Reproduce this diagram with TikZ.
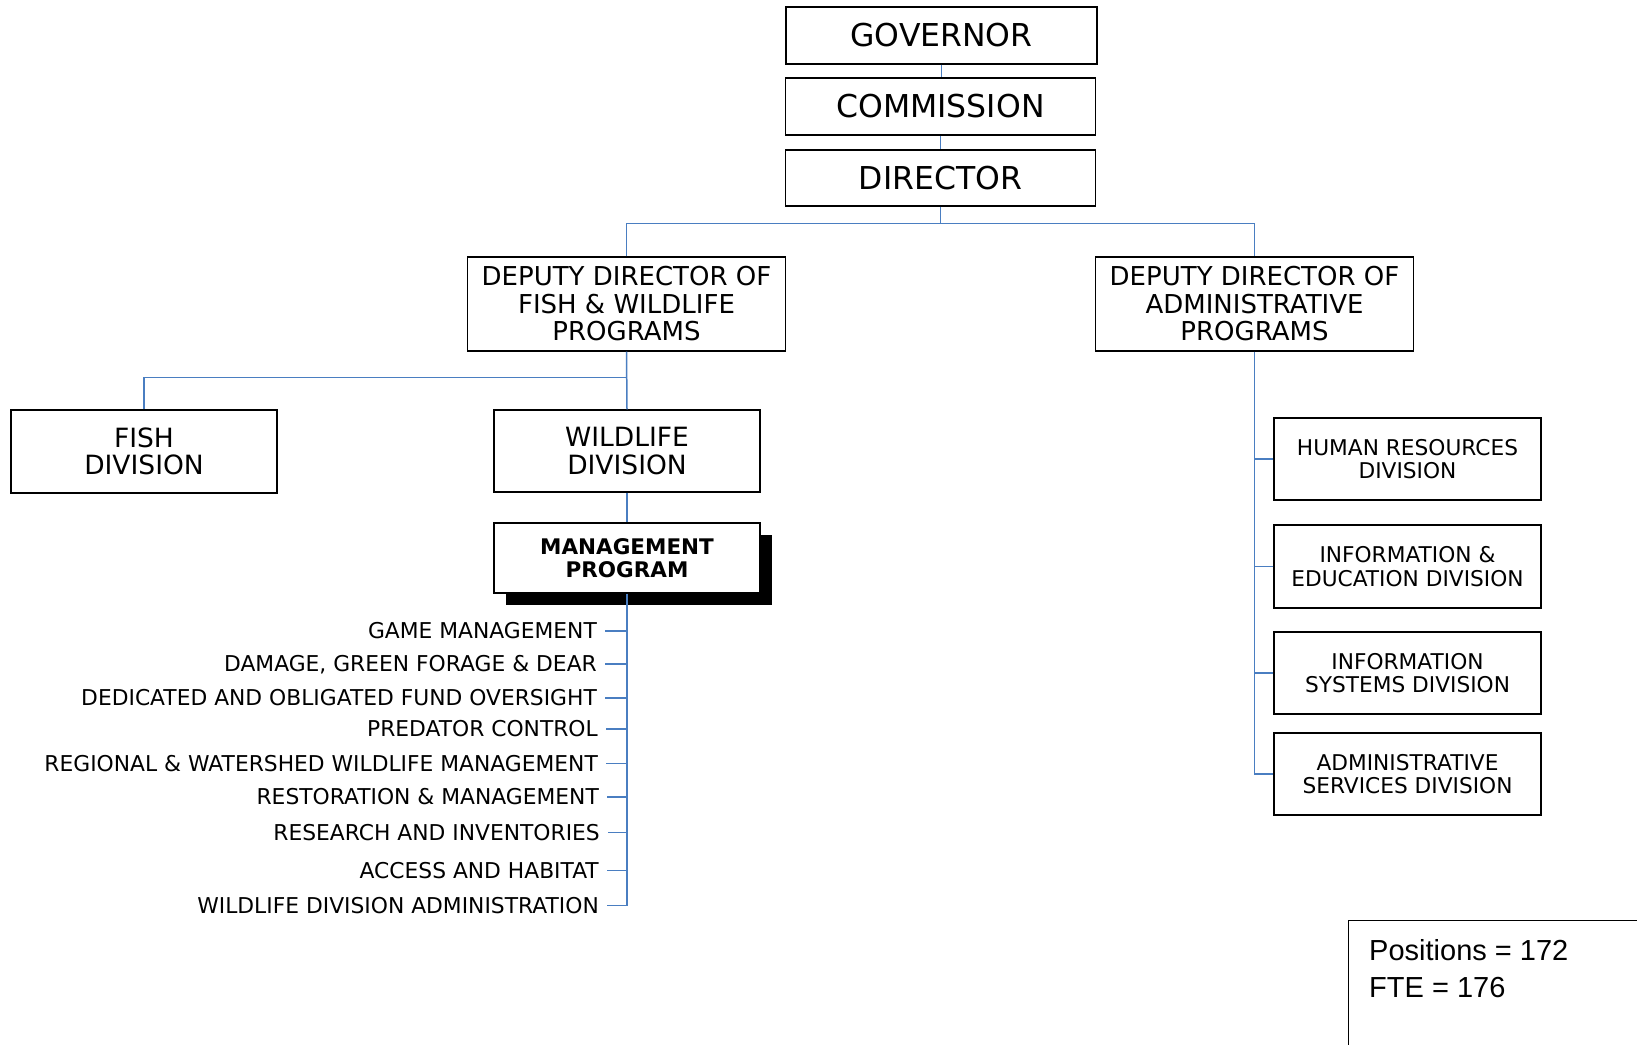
\documentclass[tikz,border=0pt]{standalone}
\usepackage{fontspec}
\setmainfont{DejaVu Sans}
\newfontfamily\posfont{Liberation Sans}
\usetikzlibrary{calc,shadows}
\definecolor{linkblue}{RGB}{74,126,193}
\begin{document}
\begin{tikzpicture}[x=1pt,y=-1pt,
  box/.style={draw=black, line width=1.1pt, fill=white, align=center, inner sep=0pt},
  topbox/.style={box, minimum width=310pt, minimum height=57pt, font=\fontsize{31.5}{34}\selectfont},
  depbox/.style={box, minimum width=318pt, minimum height=94pt, font=\fontsize{26}{27.5}\selectfont},
  divbox/.style={box, minimum width=266pt, minimum height=82pt, font=\fontsize{26.5}{27.5}\selectfont},
  admbox/.style={box, minimum width=267pt, minimum height=82pt, font=\fontsize{21.7}{23.5}\selectfont},
  item/.style={anchor=east, inner sep=0pt, text height=15.8pt, text depth=0pt, font=\fontsize{21.8}{23}\selectfont},
  link/.style={draw=linkblue, line width=1.5pt}]
\useasboundingbox (0,0) rectangle (1637,1044);
\clip (0,0) rectangle (1637,1044);

% top chain
\node[topbox, minimum width=311pt] (gov) at (941.5,35.5) {GOVERNOR};
\node[topbox] (com) at (940.5,106.5) {COMMISSION};
\node[topbox, minimum height=56pt] (dir) at (940.5,178) {DIRECTOR};

% deputies
\node[depbox] (dfw) at (626.5,304) {DEPUTY DIRECTOR OF\\FISH \& WILDLIFE\\PROGRAMS};
\node[depbox] (dad) at (1254.5,304) {DEPUTY DIRECTOR OF\\ADMINISTRATIVE\\PROGRAMS};

% divisions
\node[divbox, minimum height=83pt] (fish) at (144,451.5) {FISH\\DIVISION};
\node[divbox] (wild) at (627,451) {WILDLIFE\\DIVISION};
\node[box, minimum width=266pt, minimum height=70pt, line width=1.4pt,
  font=\bfseries\fontsize{21.5}{23}\selectfont,
  drop shadow={shadow xshift=12pt, shadow yshift=-12pt, fill=black, opacity=1}] (mgmt) at (627,558) {MANAGEMENT\\PROGRAM};

% admin divisions
\node[admbox] (hr) at (1407.5,459) {HUMAN RESOURCES\\DIVISION};
\node[admbox, minimum height=83pt] (ie) at (1407.5,566.5) {INFORMATION \&\\EDUCATION DIVISION};
\node[admbox] (is) at (1407.5,673) {INFORMATION\\SYSTEMS DIVISION};
\node[admbox] (as) at (1407.5,774) {ADMINISTRATIVE\\SERVICES DIVISION};

% management items
\node[item] (b1) at (597,631) {GAME MANAGEMENT};
\node[item] (b2) at (597,664) {DAMAGE, GREEN FORAGE \& DEAR};
\node[item] (b3) at (597,698) {DEDICATED AND OBLIGATED FUND OVERSIGHT};
\node[item] (b4) at (598,729) {PREDATOR CONTROL};
\node[item] (b5) at (598,763.5) {REGIONAL \& WATERSHED WILDLIFE MANAGEMENT};
\node[item] (b6) at (599,797) {RESTORATION \& MANAGEMENT};
\node[item] (b7) at (600,832.5) {RESEARCH AND INVENTORIES};
\node[item] (b8) at (599,870.5) {ACCESS AND HABITAT};
\node[item] (b9) at (599,905.5) {WILDLIFE DIVISION ADMINISTRATION};

% positions box
\node[draw=black, line width=1.1pt, anchor=north west, minimum width=320pt, minimum height=150pt, inner sep=0pt] (posbox) at (1348,920) {};
\node[anchor=north west, align=left, inner sep=0pt, font=\posfont\fontsize{29}{37}\selectfont] (postext) at (1369,939) {Positions = 172\\FTE = 176};

% connectors
\draw[link] (gov.south) -- (gov.south |- com.north);
\draw[link] (com.south) -- (com.south |- dir.north);
\coordinate (bus) at ($(dir.south)+(0,17)$);
\draw[link] (dir.south) -- (bus);
\draw[link] (dfw.north) |- (bus) -| (dad.north);
\coordinate (fj) at ($(dfw.south)+(0,26)$);
\draw[link] (dfw.south) -- (wild.north);
\draw[link] (fish.north) |- (fj);
\draw[link] (wild.south) -- (mgmt.north);
\draw[link] (mgmt.south) -- (mgmt.south |- b9.east);
\foreach \n in {b1,b2,b3,b4,b5,b6,b7,b8,b9}
  \draw[link] ($(\n.east)+(8,0)$) -- (\n.east -| mgmt.south);
\draw[link] (dad.south) |- (as.west);
\foreach \n in {hr,ie,is}
  \draw[link] (\n.west) -- (\n.west -| dad.south);
\end{tikzpicture}
\end{document}
